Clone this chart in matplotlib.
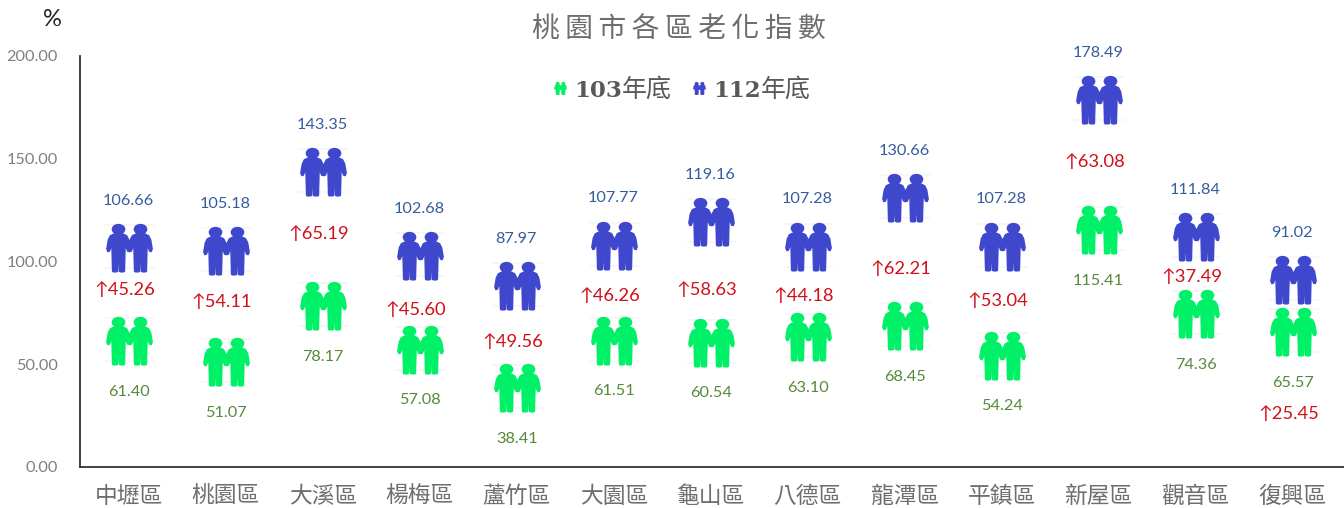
import matplotlib
matplotlib.use("Agg")
import matplotlib.pyplot as plt
from matplotlib.path import Path
from matplotlib.transforms import Affine2D

# Data
districts = ["中壢區", "桃園區", "大溪區", "楊梅區", "蘆竹區", "大園區", "龜山區",
             "八德區", "龍潭區", "平鎮區", "新屋區", "觀音區", "復興區"]
index_103 = [61.40, 51.07, 78.17, 57.08, 38.41, 61.51, 60.54, 63.10, 68.45, 54.24, 115.41, 74.36, 65.57]
index_112 = [106.66, 105.18, 143.35, 102.68, 87.97, 107.77, 119.16, 107.28, 130.66, 107.28, 178.49, 111.84, 91.02]
change = [45.26, 54.11, 65.19, 45.60, 49.56, 46.26, 58.63, 44.18, 62.21, 53.04, 63.08, 37.49, 25.45]
yticks = [0, 50, 100, 150, 200]

# where the red labels sit on the y scale (hand placed in the original)
change_label_y = [86.6, 80.8, 113.9, 76.9, 61.3, 83.7, 86.6, 83.7, 96.8, 81.3, 148.9, 93.0, 26.3]

GREEN = "#00f068"
BLUE = "#3f48cc"
FONT = ["Noto Sans CJK TC", "DejaVu Sans"]
NUM_FONT = ["Lato", "DejaVu Sans"]


def person(dx):
    # one figure, units are pixels, origin at middle of the icon
    body = [(0, 9), (5, 9.5), (8, 11), (10, 15), (11.5, 24), (10.5, 26.5), (9, 26), (6.5, 19),
            (5.8, 46), (5, 46.5), (2, 46.5), (1, 46), (0.5, 30), (-0.5, 30), (-1, 46), (-2, 46.5),
            (-5, 46.5), (-5.8, 46), (-6.5, 19), (-9, 26), (-10.5, 26.5), (-11.5, 24), (-10, 15),
            (-8, 11), (-5, 9.5), (0, 9)]
    verts = [(x + dx, 23.5 - y) for x, y in body]
    codes = [Path.MOVETO] + [Path.LINETO] * (len(verts) - 2) + [Path.CLOSEPOLY]
    head = Path.circle((0, 0), 1).transformed(Affine2D().scale(6.0, 4.6).translate(dx, 19.0))
    return Path.make_compound_path(Path(verts, codes), head)


couple = Path.make_compound_path(person(-10.85), person(10.85))
# faint lines behind every icon
guides = Path.make_compound_path(
    Path.unit_rectangle().transformed(Affine2D().scale(50, 0.8).translate(-25, 23)),
    Path.unit_rectangle().transformed(Affine2D().scale(50, 0.8).translate(-25, -19.5)))

fig = plt.figure(figsize=(13.44, 5.08), dpi=100)
ax = fig.add_axes([80 / 1344, 41 / 508, 1264 / 1344, 411 / 508])
x = list(range(len(districts)))

for vals, col in [(index_103, GREEN), (index_112, BLUE)]:
    ax.plot(x, vals, ls="none", marker=guides, ms=36, mfc="#f1f1f1", mec="none", zorder=1, clip_on=False)
    ax.plot(x, vals, ls="none", marker=couple, ms=34.4, mfc=col, mec=col, mew=1.1, zorder=2, clip_on=False)

for i in x:
    ax.annotate("%.2f" % index_112[i], (i, index_112[i]), xytext=(-0.5, 34), textcoords="offset points",
                ha="center", va="center", color="#355c9e", fontsize=11.7, family=NUM_FONT)
    ax.annotate("%.2f" % index_103[i], (i, index_103[i]), xytext=(0, -36.5), textcoords="offset points",
                ha="center", va="center", color="#558a3a", fontsize=11.7, family=NUM_FONT)
    ax.annotate("↑%.2f" % change[i], (i, change_label_y[i]), xytext=(-3, -1), textcoords="offset points",
                ha="center", va="center", color="#d0101a", fontsize=13.2, family=NUM_FONT)

ax.set_xlim(-0.505, 12.53)
ax.set_ylim(0, 200)
ax.set_xticks(x)
ax.set_xticklabels(districts, family=FONT, fontsize=16.4, color="#6e6e6e")
ax.set_yticks(yticks)
ax.set_yticklabels(["%.2f" % v for v in yticks], family=NUM_FONT, fontsize=11.7, color="#7f7f7f")
ax.tick_params(axis="x", length=0, pad=13)
ax.tick_params(axis="y", length=0, pad=16)
for s in ["top", "right"]:
    ax.spines[s].set_visible(False)
for s in ["left", "bottom"]:
    ax.spines[s].set_color("#333333")
    ax.spines[s].set_linewidth(1.3)

fig.text(679 / 1344, 1 - 30 / 508, "\u2009".join("桃園市各區老化指數"), ha="center", va="center",
         family=FONT, fontsize=20, color="#6e6e6e")
fig.text(52 / 1344, 1 - 20 / 508, "%", ha="center", va="center", family=NUM_FONT, fontsize=17, color="#222222")

# legend, pieces placed by hand because the digits and the text use different fonts
for px, col, year in [(560, GREEN, "103"), (699, BLUE, "112")]:
    ax.plot([px / 1344], [1 - 88 / 508], transform=fig.transFigure, ls="none", marker=couple, ms=9,
            mfc=col, mec=col, mew=0.5, clip_on=False)
    fig.text((px + 14) / 1344, 1 - 91 / 508, year, ha="left", va="center", family="DejaVu Serif",
             weight="bold", fontsize=16.5, color="#595959")
    fig.text((px + 62) / 1344, 1 - 90 / 508, "年底", ha="left", va="center", family=FONT,
             fontsize=18, color="#595959")

fig.savefig("out.png", dpi=100)
